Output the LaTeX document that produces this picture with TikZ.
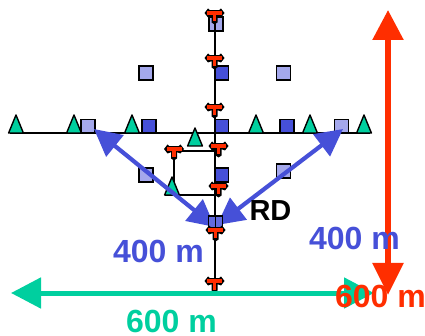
\documentclass[tikz,border=0pt]{standalone}
\usepackage{fontspec}
\setmainfont{Liberation Sans}
\usetikzlibrary{arrows.meta}
\definecolor{bluedark}{HTML}{4650D8}
\definecolor{bluelight}{HTML}{A4A8EC}
\definecolor{tealc}{HTML}{00CF9F}
\definecolor{redc}{HTML}{FF2E00}
\tikzset{
  x=1pt,y=-1pt,
  sq/.style={draw=black,line width=1.7pt,minimum size=14pt,inner sep=0pt,rectangle},
  sqlight/.style={sq,fill=bluelight},
  sqdark/.style={sq,fill=bluedark},
  wire/.style={draw=black,line width=1.5pt},
  lab/.style={font=\bfseries\fontsize{32}{36}\selectfont,inner sep=0pt},
  tri/.pic={\filldraw[fill=tealc,draw=black,line width=1.4pt,line join=round] (-7.4,0)--(0,-18)--(7.4,0)--cycle;},
  tmark/.pic={
    \fill[black] (-10,0)--(-6.5,-4.5)--(-4.5,-2.8)--(4.5,-2.8)--(6.5,-4.5)--(10,0)--(6.5,4.5)--(3,3.2)--(3,9.5)--(0,11.5)--(-3,9.5)--(-3,3.2)--(-6.5,4.5)--cycle;
    \fill[redc] (-7.5,-1.9) rectangle (7.5,1.9);
    \fill[redc] (-1.7,0) rectangle (1.7,8.5);
  }
}
\begin{document}
\begin{tikzpicture}
\useasboundingbox (0,0) rectangle (425,336);
% anchors
\coordinate (hl) at (10,133);
\coordinate (hr) at (370,133);
\coordinate (vt) at (215,14);
\coordinate (vb) at (215,283);
\coordinate (bl) at (174,151);
\coordinate (br) at (215,151);
\coordinate (cl) at (174,195);
\coordinate (cr) at (215,195);
\coordinate (cll) at (165,195);
% squares
\node[sqlight] (s1) at (216,24) {};
\node[sqlight] (s2) at (146,73) {};
\node[sqdark]  (s3) at (221.5,73) {};
\node[sqlight] (s4) at (283.5,73) {};
\node[sqlight] (s5) at (88,126.5) {};
\node[sqdark]  (s6) at (149,126.5) {};
\node[sqdark]  (s7) at (221.5,126.5) {};
\node[sqdark]  (s8) at (287,126.5) {};
\node[sqlight] (s9) at (341.5,126.5) {};
\node[sqlight] (s10) at (146,175) {};
\node[sqdark]  (s11) at (221.5,175) {};
\node[sqlight] (s12) at (283.5,171) {};
% wires
\draw[wire] (hl) -- (hr);
\draw[wire] (vt) -- (vb);
\draw[wire] (bl) -- (br);
\draw[wire] (bl) -- (cl);
\draw[wire] (cll) -- (cr);
% triangles
\foreach \p in {(16,133),(74,133),(132,133),(256,133),(310,133),(364,133),(195,146),(172,195)}
  \pic at \p {tri};
% blue arrows
\coordinate (ba) at (94,129);
\coordinate (bb) at (215,227);
\coordinate (bc) at (343,129);
\coordinate (bd) at (217,225);
\draw[line width=4.2pt,bluedark,{Triangle[length=27pt,width=27pt]}-{Triangle[length=27pt,width=27pt]}] (ba) -- (bb);
\draw[line width=4.2pt,bluedark,{Triangle[length=27pt,width=27pt]}-{Triangle[length=27pt,width=27pt]}] (bc) -- (bd);
\node[sq,fill=bluedark!85!white] (s13) at (215.5,223) {};
\draw[wire] (s13.north) -- (s13.south);
% T markers
\foreach \p in {(214.5,13),(214.5,58),(214.5,107),(174,149),(218.5,146),(218.5,186),(215.5,230),(214.5,281)}
  \pic at \p {tmark};
% green
\coordinate (ga) at (11,293);
\coordinate (gb) at (374,293);
\draw[line width=5pt,tealc,{Triangle[length=30pt,width=30pt]}-{Triangle[length=30pt,width=30pt]}] (ga) -- (gb);
% red
\coordinate (ra) at (388,10);
\coordinate (rb) at (388,295);
\draw[line width=5.5pt,redc,{Triangle[length=30pt,width=30pt]}-{Triangle[length=32pt,width=30pt]}] (ra) -- (rb);
% labels
\node[lab,text=bluedark] (l1) at (158.5,251) {400 m};
\node[lab,text=bluedark] (l2) at (354.5,238) {400 m};
\node[lab,text=redc] (l3) at (380.5,296) {600 m};
\node[lab,text=tealc] (l4) at (171.5,321) {600 m};
\node[font=\bfseries\fontsize{29}{33}\selectfont,inner sep=0pt] (l5) at (270.5,211) {RD};
\end{tikzpicture}
\end{document}
